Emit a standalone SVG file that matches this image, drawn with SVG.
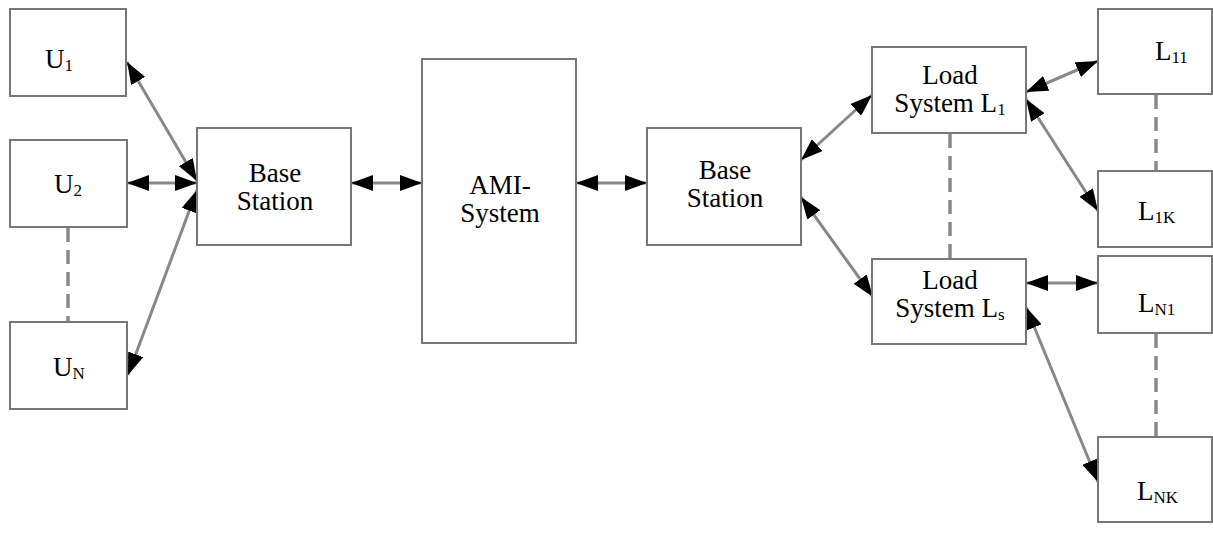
<svg xmlns="http://www.w3.org/2000/svg" width="1213" height="533" viewBox="0 0 1213 533">
<style>
.box{fill:#fff;stroke:#777;stroke-width:2}
.t{font-family:"Liberation Serif","Times New Roman",Times,serif;font-size:27px;fill:#000}
.c{text-anchor:middle}
.sub{font-size:17px}
.ln{stroke:#888;stroke-width:3;fill:none;marker-start:url(#ah);marker-end:url(#ah)}
.dash{stroke:#888;stroke-width:3.5;fill:none;stroke-dasharray:14 8}
</style>
<defs>
<marker id="ah" markerUnits="userSpaceOnUse" markerWidth="22" markerHeight="16" refX="22" refY="8" orient="auto-start-reverse" viewBox="0 0 22 16">
<path d="M0,0 L22,8 L0,16 Z" fill="#000"/>
</marker>
</defs>
<rect width="1213" height="533" fill="#fff"/>
<g id="connectors">
<line class="ln" x1="127" y1="62" x2="197" y2="181"/>
<line class="ln" x1="127" y1="183" x2="197" y2="183"/>
<line class="ln" x1="197" y1="190" x2="128" y2="375"/>
<line class="dash" x1="68" y1="228" x2="68" y2="325"/>
<line class="ln" x1="351" y1="183" x2="422" y2="183"/>
<line class="ln" x1="576" y1="183" x2="647" y2="183"/>
<line class="ln" x1="801" y1="160" x2="872" y2="95"/>
<line class="ln" x1="801" y1="197" x2="873" y2="297"/>
<line class="dash" x1="950" y1="134" x2="950" y2="259"/>
<line class="ln" x1="1026" y1="92" x2="1098" y2="61"/>
<line class="ln" x1="1026" y1="99" x2="1098" y2="211"/>
<line class="dash" x1="1156" y1="95" x2="1156" y2="171"/>
<line class="ln" x1="1026" y1="283" x2="1098" y2="283"/>
<line class="ln" x1="1026" y1="307" x2="1098" y2="482"/>
<line class="dash" x1="1156" y1="334" x2="1156" y2="437"/>
</g>
<g id="U1"><rect class="box" x="10" y="9" width="116" height="87"/><text class="t" x="45" y="68">U<tspan class="sub" dy="3">1</tspan></text></g>
<g id="U2"><rect class="box" x="10" y="140" width="117" height="87"/><text class="t" x="54" y="193">U<tspan class="sub" dy="3">2</tspan></text></g>
<g id="UN"><rect class="box" x="10" y="322" width="117" height="87"/><text class="t" x="53" y="376">U<tspan class="sub" dy="3">N</tspan></text></g>
<g id="BaseStation1"><rect class="box" x="197" y="128" width="154" height="117"/><text class="t c" x="275" y="182">Base</text><text class="t c" x="275" y="210">Station</text></g>
<g id="AMI"><rect class="box" x="422" y="59" width="154" height="284"/><text class="t c" x="500" y="194">AMI-</text><text class="t c" x="500" y="222">System</text></g>
<g id="BaseStation2"><rect class="box" x="647" y="128" width="154" height="117"/><text class="t c" x="725" y="179">Base</text><text class="t c" x="725" y="207">Station</text></g>
<g id="LoadL1"><rect class="box" x="872" y="47" width="154" height="86"/><text class="t c" x="950" y="84">Load</text><text class="t c" x="950" y="112">System L<tspan class="sub" dy="3">1</tspan></text></g>
<g id="LoadLs"><rect class="box" x="872" y="259" width="154" height="85"/><text class="t c" x="950" y="289">Load</text><text class="t c" x="950" y="317">System L<tspan class="sub" dy="3">s</tspan></text></g>
<g id="L11"><rect class="box" x="1098" y="9" width="114" height="85"/><text class="t" x="1155" y="60">L<tspan class="sub" dy="3">11</tspan></text></g>
<g id="L1K"><rect class="box" x="1098" y="171" width="114" height="76"/><text class="t" x="1138" y="220">L<tspan class="sub" dy="3">1K</tspan></text></g>
<g id="LN1"><rect class="box" x="1098" y="256" width="114" height="77"/><text class="t" x="1138" y="312">L<tspan class="sub" dy="3">N1</tspan></text></g>
<g id="LNK"><rect class="box" x="1098" y="437" width="114" height="85"/><text class="t" x="1137" y="500">L<tspan class="sub" dy="3">NK</tspan></text></g>
</svg>
